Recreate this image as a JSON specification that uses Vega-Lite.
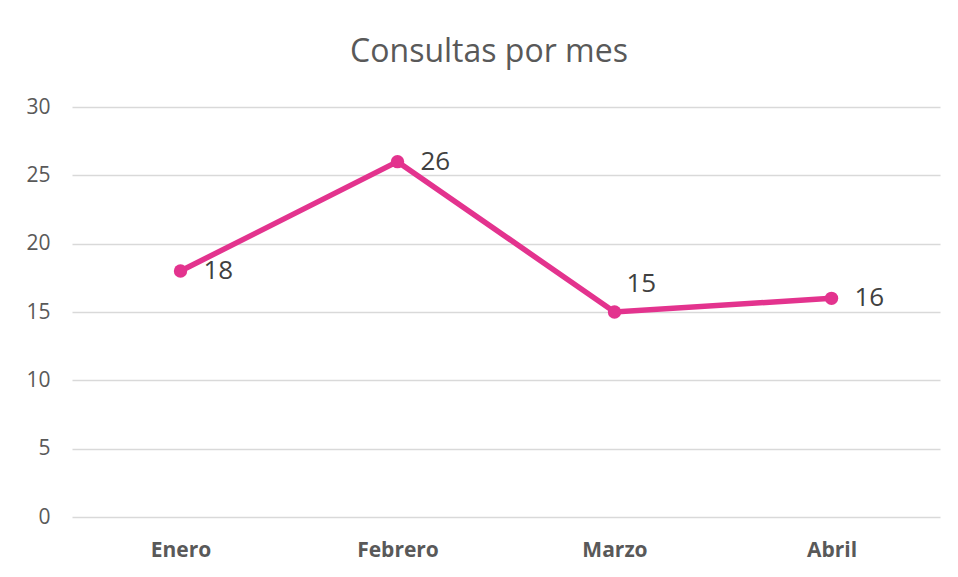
{
  "$schema": "https://vega.github.io/schema/vega-lite/v6.json",
  "width": 868,
  "height": 410,
  "autosize": {"type": "none"},
  "padding": {"left": 72, "top": 107, "right": 18, "bottom": 60},
  "background": "white",
  "title": {
    "text": "Consultas por mes",
    "font": "Open Sans",
    "fontSize": 32,
    "fontWeight": "normal",
    "color": "#595959",
    "anchor": "middle",
    "dx": -17,
    "offset": 27
  },
  "config": {
    "view": {"stroke": null},
    "axis": {"labelFont": "Open Sans", "labelColor": "#595959", "domain": false, "ticks": false}
  },
  "data": {
    "values": [
      {"mes": "Enero", "consultas": 18},
      {"mes": "Febrero", "consultas": 26},
      {"mes": "Marzo", "consultas": 15},
      {"mes": "Abril", "consultas": 16}
    ]
  },
  "encoding": {
    "x": {
      "field": "mes",
      "type": "nominal",
      "sort": null,
      "scale": {"paddingInner": 0, "paddingOuter": 0},
      "axis": {"title": null, "labelAngle": 0, "labelFontSize": 21, "labelFontWeight": "bold", "labelPadding": 22, "grid": false}
    },
    "y": {
      "field": "consultas",
      "type": "quantitative",
      "scale": {"domain": [0, 30], "nice": false},
      "axis": {"title": null, "values": [0, 5, 10, 15, 20, 25, 30], "labelFontSize": 21, "labelPadding": 22, "gridColor": "#d9d9d9", "gridWidth": 1.5}
    }
  },
  "layer": [
    {
      "mark": {"type": "line", "color": "#E3338E", "strokeWidth": 5.5},
      "encoding": {}
    },
    {
      "mark": {"type": "point", "filled": true, "color": "#E3338E", "size": 180, "opacity": 1},
      "encoding": {}
    },
    {
      "transform": [{"filter": "datum.mes != 'Marzo'"}],
      "mark": {"type": "text", "align": "left", "baseline": "middle", "dx": 23, "font": "Open Sans", "fontSize": 26, "color": "#404040"},
      "encoding": {"text": {"field": "consultas"}}
    },
    {
      "transform": [{"filter": "datum.mes == 'Marzo'"}],
      "mark": {"type": "text", "align": "left", "baseline": "middle", "dx": 12, "dy": -28, "font": "Open Sans", "fontSize": 26, "color": "#404040"},
      "encoding": {"text": {"field": "consultas"}}
    }
  ]
}
